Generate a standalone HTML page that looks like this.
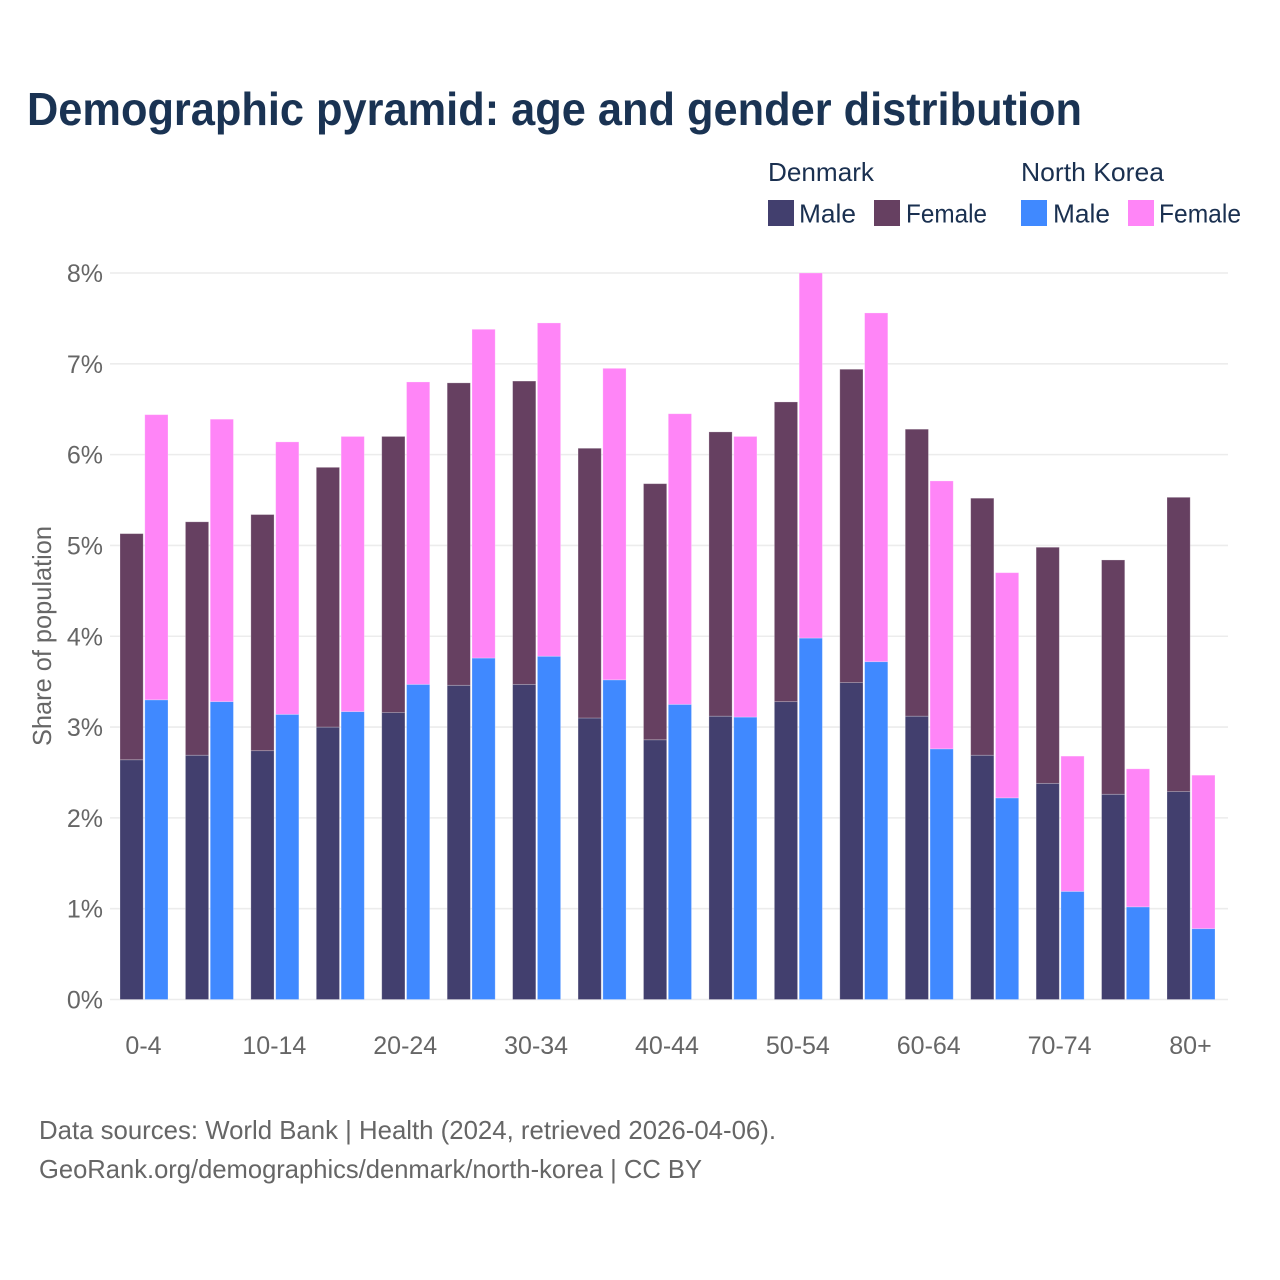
<!DOCTYPE html>
<html lang="en">
<head>
<meta charset="utf-8">
<title>Demographic pyramid: age and gender distribution</title>
<style>
html,body{margin:0;padding:0;background:#fff;width:1280px;height:1280px;overflow:hidden}
svg{display:block;font-family:"Liberation Sans",sans-serif}
.lg{font-size:26px;fill:#1a3050}
.mut{font-size:25px;fill:#666666}
.note{font-size:26px;fill:#666666}
</style>
</head>
<body>
<svg id="chart" xmlns="http://www.w3.org/2000/svg" width="1280" height="1280" viewBox="0 0 1280 1280">
  <rect x="0" y="0" width="1280" height="1280" fill="#ffffff"/>
  <text x="27" y="125" font-size="46" font-weight="700" fill="#1a3353" textLength="1055" lengthAdjust="spacingAndGlyphs">Demographic pyramid: age and gender distribution</text>

  <g>
    <text class="lg" x="768" y="181" textLength="106" lengthAdjust="spacingAndGlyphs">Denmark</text>
    <text class="lg" x="1021" y="181" textLength="143" lengthAdjust="spacingAndGlyphs">North Korea</text>
    <rect x="768" y="200" width="26" height="26" fill="#423f6e"/>
    <text class="lg" x="799" y="222.5" textLength="57" lengthAdjust="spacingAndGlyphs">Male</text>
    <rect x="874" y="200" width="26" height="26" fill="#664061"/>
    <text class="lg" x="906" y="222.5" textLength="81" lengthAdjust="spacingAndGlyphs">Female</text>
    <rect x="1021" y="200" width="26" height="26" fill="#4089ff"/>
    <text class="lg" x="1053" y="222.5" textLength="57" lengthAdjust="spacingAndGlyphs">Male</text>
    <rect x="1128" y="200" width="26" height="26" fill="#ff85f7"/>
    <text class="lg" x="1159" y="222.5" textLength="82" lengthAdjust="spacingAndGlyphs">Female</text>
  </g>

  <g id="grid"></g>
  <g id="bars"></g>
  <g id="yticks"></g>
  <g id="xticks"></g>

  <text class="note" transform="translate(51,636) rotate(-90)" text-anchor="middle" textLength="220" lengthAdjust="spacingAndGlyphs">Share of population</text>

  <text class="note" x="39" y="1139" textLength="737" lengthAdjust="spacingAndGlyphs">Data sources: World Bank | Health (2024, retrieved 2026-04-06).</text>
  <text class="note" x="39" y="1178" textLength="663" lengthAdjust="spacingAndGlyphs">GeoRank.org/demographics/denmark/north-korea | CC BY</text>
</svg>
<script>
const categories = ["0-4","5-9","10-14","15-19","20-24","25-29","30-34","35-39","40-44","45-49","50-54","55-59","60-64","65-69","70-74","75-79","80+"];
const denmarkMale = [2.64,2.69,2.74,3.00,3.16,3.46,3.47,3.10,2.86,3.12,3.28,3.49,3.12,2.69,2.38,2.26,2.29];
const denmarkFemale = [2.49,2.57,2.60,2.86,3.04,3.33,3.34,2.97,2.82,3.13,3.30,3.45,3.16,2.83,2.60,2.58,3.24];
const northKoreaMale = [3.30,3.28,3.14,3.17,3.47,3.76,3.78,3.52,3.25,3.11,3.98,3.72,2.76,2.22,1.19,1.02,0.78];
const northKoreaFemale = [3.14,3.11,3.00,3.03,3.33,3.62,3.67,3.43,3.20,3.09,4.02,3.84,2.95,2.48,1.49,1.52,1.69];
const yTickValues = [0,1,2,3,4,5,6,7,8];
const xLabelEvery = 2;

const NS = "http://www.w3.org/2000/svg";
const plotLeft = 110, plotRight = 1228, plotBottom = 999.5, plotTop = 273;
const yMax = 8;
const firstCenter = 144, lastCenter = 1191;
const barWidth = 23.2, barGap = 1.6;

function yScale(v) {
  return plotBottom - (v / yMax) * (plotBottom - plotTop);
}
function xCenter(i) {
  return firstCenter + i * (lastCenter - firstCenter) / (categories.length - 1);
}
function make(tag, attrs, parent) {
  const el = document.createElementNS(NS, tag);
  for (const k in attrs) el.setAttribute(k, attrs[k]);
  parent.appendChild(el);
  return el;
}

const grid = document.getElementById("grid");
const yticks = document.getElementById("yticks");
yTickValues.forEach(function (t) {
  const line = make("line", {x1: plotLeft, x2: plotRight, y1: yScale(t), y2: yScale(t), stroke: "#ececec", "stroke-width": 1.6}, grid);
  
  
  const label = make("text", {x: 103, y: yScale(t) + 9, "text-anchor": "end", "class": "mut"}, yticks);
  label.textContent = t + "%";
  
  
});

const barsGroup = document.getElementById("bars");
function segment(cx, base, value, color, name) {
  const rect = make("rect", {
    x: cx,
    y: yScale(base + value),
    width: barWidth,
    height: Math.max(0, yScale(base) - yScale(base + value)),
    fill: color,
    stroke: "#ffffff",
    "stroke-opacity": 0.3,
    "stroke-width": 0.8
  }, barsGroup);
  
  
}
categories.forEach(function (cat, i) {
  const c = xCenter(i);
  const left = c - barGap / 2 - barWidth;
  const right = c + barGap / 2;
  segment(left, 0, denmarkMale[i], "#423f6e", "bar-denmark-male");
  segment(left, denmarkMale[i], denmarkFemale[i], "#664061", "bar-denmark-female");
  segment(right, 0, northKoreaMale[i], "#4089ff", "bar-north-korea-male");
  segment(right, northKoreaMale[i], northKoreaFemale[i], "#ff85f7", "bar-north-korea-female");
});

const xticks = document.getElementById("xticks");
categories.forEach(function (cat, i) {
  if (i % xLabelEvery !== 0) return;
  const label = make("text", {x: xCenter(i) - 0.5, y: 1054, "text-anchor": "middle", "class": "mut"}, xticks);
  label.textContent = cat;
  
  
});
</script>
</body>
</html>
